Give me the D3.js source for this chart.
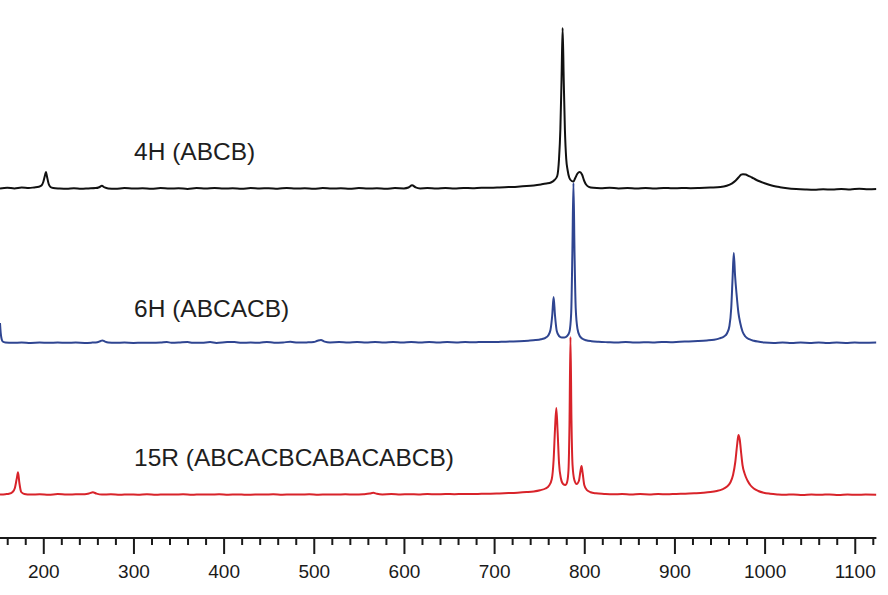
<!DOCTYPE html>
<html>
<head>
<meta charset="utf-8">
<script src="https://cdn.jsdelivr.net/npm/d3@7"></script>
<style>
  html, body { margin: 0; padding: 0; background: #fff; }
  svg { display: block; }
</style>
</head>
<body>
<svg id="chart" width="888" height="595"></svg>
<script>
// ---- Data (Raman shift in cm-1, intensity in arbitrary units above each baseline) ----
const xTicksMajor = [200, 300, 400, 500, 600, 700, 800, 900, 1000, 1100];
const seriesNames = ["4H (ABCB)", "6H (ABCACB)", "15R (ABCACBCABACABCB)"];
const seriesColors = ["#111111", "#2f4591", "#d8232a"];
const seriesOffsets = [349, 195, 43];

const shift4H = [152,160,168,176,184,190,195,198,200,202,203,204,206,208,211,218,226,234,242,250,258,262,265,268,272,280,290,300,310,320,330,340,350,360,370,380,390,400,410,420,430,440,450,460,470,480,490,500,510,520,530,540,550,560,570,580,590,600,605,609,613,618,626,636,646,656,666,676,686,696,706,716,726,736,744,752,758,763,767,770,772,773.5,774.8,776,777.2,778.5,780,781.5,783.5,786,788,790,792.5,795,797.5,800,802,805,810,818,828,838,848,858,868,878,888,898,908,918,928,940,951,958,964,968,971,974,976,979,982,986,990,995,1000,1005,1010,1017,1025,1035,1045,1055,1065,1075,1085,1095,1105,1115,1124];
const int4H = [0.5,1.2,0.6,1.4,1.0,1.6,2.2,3.5,7,14,17,13,5,2,1.0,0.5,0.2,0.8,0.3,0.6,0.9,1.8,3.2,1.6,0.6,0.2,0.9,0.4,0.8,0.2,0.9,0.5,0.7,0.1,0.9,0.4,1.0,0.4,0.7,0.2,0.9,0.5,0.8,0.3,1.0,0.4,0.7,0.2,0.9,0.4,0.8,0.3,0.9,0.5,0.7,0.3,0.9,0.6,1.5,3.8,1.6,0.6,0.9,0.4,1.0,0.6,1.1,0.8,1.3,1.2,1.5,1.9,2.3,2.9,3.6,4.6,5.5,6.5,9,13,30,60,110,161,110,60,30,19,11,8,7.5,11,15.5,17,14.5,8,4.5,2.2,1.2,0.8,1.2,0.6,0.9,0.5,1.0,0.6,1.1,0.7,1.0,0.8,1.0,1.4,1.9,3.2,5.7,8.5,11.5,14.3,14.8,14.5,13.2,11.5,9.5,7.5,5.8,4.3,3,1.8,0.8,0.0,-0.5,-0.8,-0.3,-0.6,0.0,-0.4,0.2,-0.2,0.1];

const shift6H = [152,152.8,153.8,155,158,166,176,186,196,206,216,226,236,246,254,260,263,265.5,268,272,280,290,300,310,320,330,337,342,350,360,366,376,385,392,404,412,420,430,440,448,456,466,474,482,492,500,504,508,512,518,528,538,548,558,568,578,588,598,608,618,628,638,648,658,668,678,688,698,708,718,728,738,746,752,757,760,762.5,764.5,766,767.5,769.5,772,775,778,781,783.5,785.5,786.8,788,789.2,790.5,792.5,795,798,802,808,816,826,836,846,856,866,876,886,896,906,916,926,936,944,950,955,958.5,961,963,964.5,965.8,967.2,969,971,973,975.5,978.7,983,988,994,1000,1010,1020,1030,1040,1050,1060,1070,1080,1090,1100,1110,1124];
const int6H = [20,10,4,1.5,0.6,0.2,0.5,0.1,0.4,0.2,0.5,0.2,0.4,0.1,0.4,0.8,1.8,2.6,1.6,0.5,0.2,0.4,0.1,0.3,0.2,0.4,1.0,0.2,0.4,1.0,0.2,0.3,0.9,0.1,0.9,1.0,0.2,0.4,0.3,1.0,0.3,0.6,1.2,0.4,0.6,1.0,2.2,3.0,1.4,0.6,0.9,0.4,0.9,0.5,1.0,0.6,1.1,0.5,0.9,0.4,1.0,0.5,0.9,0.6,1.0,0.7,1.1,0.9,1.2,1.5,1.8,2.3,2.9,3.8,5.2,7.5,13,28,46,28,12,7,5.5,5.5,7,11,30,90,160,90,35,14,7,4.2,2.8,1.8,1.2,0.8,0.5,1.0,0.4,0.8,0.6,1.1,0.8,1.3,1.5,1.9,2.5,3.3,4.6,6.5,10,17,35,65,90,68,48,30,20,11.5,6.5,3.8,2.2,1.2,0.4,0.1,0.5,0.0,0.4,0.1,0.5,0.0,0.4,0.1,0.5,0.2,0.4];

const shift15R = [152,158,162,166,168.5,170.5,172,173.5,175.5,179,186,196,206,216,226,236,246,251,255,259,265,275,285,295,305,315,325,335,345,355,365,375,385,395,405,415,425,435,445,455,465,475,485,495,505,515,525,535,545,555,562,566,570,576,586,596,606,616,626,636,646,656,666,676,686,696,706,716,726,736,744,751,757,761,764,766,767.5,769,770.5,772,774,776.5,779,781,782.5,783.6,784.7,785.8,787,789,791.5,794,795.8,797,798.2,800,803,807,813,822,832,842,852,862,872,882,892,902,912,922,932,940,947,953,958,962,965,967.5,969.5,971,972.5,974,975.5,978,981,984.5,988,993,999,1006,1014,1022,1032,1042,1052,1062,1072,1082,1092,1102,1112,1124];
const int15R = [0.4,0.8,1.2,3,7,16,22.7,12,3,1.0,0.4,0.8,0.3,0.9,0.5,0.7,0.8,1.6,2.7,1.4,0.5,0.7,0.2,0.6,0.3,0.7,0.2,0.6,0.4,0.7,0.2,0.6,0.4,0.7,0.3,0.6,0.2,0.5,0.4,0.7,0.3,0.6,0.5,0.7,0.3,0.6,0.4,0.7,0.5,0.8,1.4,2.2,1.2,0.6,0.9,0.5,0.8,0.6,1.0,0.7,1.0,0.8,1.1,1.0,1.2,1.3,1.6,1.9,2.3,2.9,3.6,4.8,6.5,9.5,16,35,65,87,62,32,17,11,10,13,25,70,158,75,30,15,11,14,24,29,22,10,4.8,2.8,1.7,1.1,0.7,1.0,0.5,0.9,0.6,1.0,0.7,1.1,1.3,1.7,2.2,2.9,4.0,5.6,8.2,12.5,20,33,50,60,55,42,30,21,14.5,9.5,6.5,4.0,2.3,1.3,0.6,0.2,0.6,0.1,0.5,0.2,0.6,0.1,0.5,0.2,0.5,0.3];

const shifts = [shift4H, shift6H, shift15R];
const intensities = [int4H, int6H, int15R];

// ---- Layout ----
const axisY = 538;
const svg = d3.select("#chart");

const x = d3.scaleLinear().domain([152, 1124]).range([0, 876.4]);
const y = d3.scaleLinear().domain([0, 540]).range([axisY, axisY - 540]);

svg.append("defs").append("clipPath").attr("id", "plotclip")
  .append("rect").attr("x", 0).attr("y", 0).attr("width", 876.4).attr("height", axisY);

const plot = svg.append("g").attr("clip-path", "url(#plotclip)");

const line = d3.line()
  .x(d => x(d[0]))
  .y(d => y(d[1]))
  .curve(d3.curveMonotoneX);

shifts.forEach((s, i) => {
  const pts = s.map((v, j) => [v, intensities[i][j] + seriesOffsets[i]]);
  plot.append("path")
    .datum(pts)
    .attr("fill", "none")
    .attr("stroke", seriesColors[i])
    .attr("stroke-width", 2)
    .attr("stroke-linejoin", "round")
    .attr("d", line);
});

// Series labels
const labelBaselines = [160, 317, 466];
seriesNames.forEach((n, i) => {
  svg.append("text")
    .attr("x", 134)
    .attr("y", labelBaselines[i])
    .attr("font-family", "Liberation Sans, Arial, sans-serif")
    .attr("font-size", 24.5)
    .attr("fill", "#1e1e1e")
    .text(n);
});

// X axis
const minorTicks = d3.range(160, 1124, 20).filter(v => v % 100 !== 0);
const axisG = svg.append("g").attr("transform", `translate(0,${axisY})`);
axisG.append("line")
  .attr("x1", 0).attr("x2", 876.4)
  .attr("y1", 0).attr("y2", 0)
  .attr("stroke", "#1a1a1a").attr("stroke-width", 2);

const minorAxis = d3.axisBottom(x).tickValues(minorTicks).tickSize(7).tickFormat("");
const gMinor = axisG.append("g").call(minorAxis);
gMinor.select(".domain").remove();
gMinor.selectAll(".tick line").attr("stroke", "#1a1a1a").attr("stroke-width", 2);

const majorAxis = d3.axisBottom(x).tickValues(xTicksMajor).tickSize(16).tickPadding(11).tickFormat(d3.format("d"));
const gMajor = axisG.append("g").call(majorAxis);
gMajor.select(".domain").remove();
gMajor.selectAll(".tick line").attr("stroke", "#1a1a1a").attr("stroke-width", 2);
gMajor.selectAll(".tick text")
  .attr("font-family", "Liberation Sans, Arial, sans-serif")
  .attr("font-size", 19)
  .attr("fill", "#1a1a1a");
</script>
</body>
</html>
